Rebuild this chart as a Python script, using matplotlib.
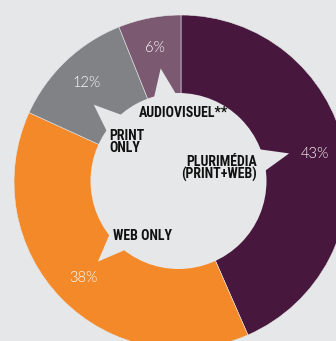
import numpy as np
import matplotlib
matplotlib.use("Agg")
import matplotlib.pyplot as plt
from matplotlib.patches import Circle, Polygon

# Share of respondents by publishing channel
categories = ["PLURIMÉDIA\n(PRINT+WEB)", "WEB ONLY", "PRINT\nONLY", "AUDIOVISUEL**"]
shares = [43, 38, 12, 6]
colors = ["#48173E", "#F4892A", "#808285", "#7B5A71"]

BG = "#E6E7E8"
W, H = 336, 341

fig = plt.figure(figsize=(W / 100, H / 100), dpi=100, facecolor=BG)
ax = fig.add_axes([0, 0, 1, 1])
ax.set_xlim(0, W)
ax.set_ylim(0, H)
ax.set_aspect("equal")
ax.axis("off")

outer_c = (181, 159)
outer_r = 167

wedges, _, pct_texts = ax.pie(
    shares,
    colors=colors,
    startangle=90,
    counterclock=False,
    radius=outer_r,
    center=outer_c,
    autopct="%.0f%%",
    pctdistance=0.82,
    wedgeprops=dict(edgecolor=BG, linewidth=0.4),
    textprops=dict(color="white", fontsize=10.5, family=["Lato", "DejaVu Sans"],
                   fontweight=300),
)
ax.set_xlim(0, W)
ax.set_ylim(0, H)

# Central disc with speech-bubble pointers towards each segment
inner_c = np.array([178.5, 160.0])
inner_r = 88
ax.add_patch(Circle(inner_c, inner_r, facecolor=BG, edgecolor="none", zorder=3))

pointer_angles = [14, 225, 138, 99]
half_width = 8.5
tip_r = 114
for a in pointer_angles:
    pts = []
    for ang, rr in [(a + half_width, inner_r - 4), (a, tip_r), (a - half_width, inner_r - 4)]:
        t = np.deg2rad(ang)
        pts.append(inner_c + rr * np.array([np.cos(t), np.sin(t)]))
    ax.add_patch(Polygon(pts, closed=True, facecolor=BG, edgecolor="none", zorder=3))

label_font = dict(family=["Roboto Condensed", "Liberation Sans Narrow", "DejaVu Sans"],
                  fontstretch="condensed", fontweight="bold",
                  fontsize=10, color="#111111", zorder=4)

ax.text(183, 228, categories[3], ha="center", va="center", **label_font)
ax.text(109, 199, categories[2], ha="left", va="center", linespacing=0.85, **label_font)
ax.text(257, 172.5, categories[0], ha="right", va="center", multialignment="right",
        linespacing=0.9, **label_font)
ax.text(142.5, 105, categories[1], ha="center", va="center", **label_font)

fig.savefig("out.png", dpi=100, facecolor=BG)
